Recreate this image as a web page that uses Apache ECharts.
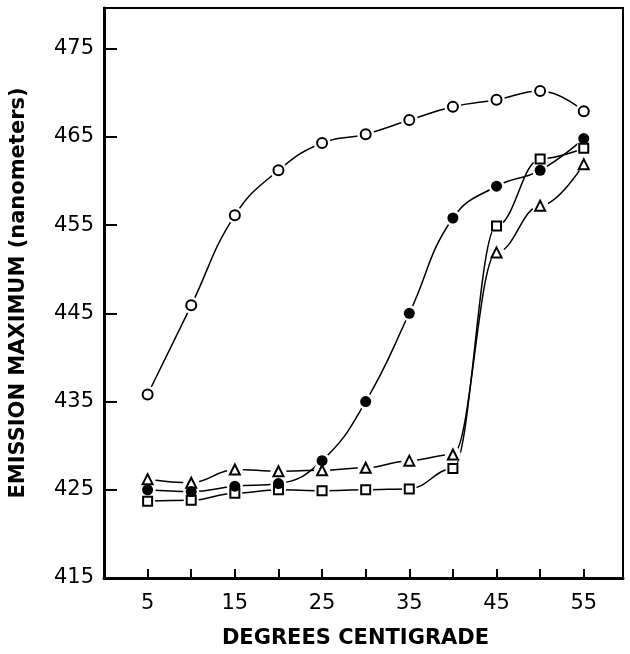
<!DOCTYPE html>
<html>
<head>
<meta charset="utf-8">
<script src="https://cdn.jsdelivr.net/npm/echarts@6/dist/echarts.min.js"></script>
<style>
html,body{margin:0;padding:0;background:#fff;}
#chart{width:630px;height:654px;}
</style>
</head>
<body>
<div id="chart"></div>
<script>
// Data
const temperatures = [5, 10, 15, 20, 25, 30, 35, 40, 45, 50, 55];
const openCircles   = [435.8, 445.9, 456.1, 461.2, 464.3, 465.3, 466.9, 468.4, 469.2, 470.2, 467.9];
const filledCircles = [425.0, 424.8, 425.4, 425.7, 428.3, 435.0, 445.0, 455.8, 459.4, 461.2, 464.8];
const squares       = [423.7, 423.8, 424.6, 425.0, 424.9, 425.0, 425.1, 427.4, 454.9, 462.5, 463.7];
const triangles     = [426.2, 425.8, 427.3, 427.1, 427.2, 427.5, 428.3, 429.0, 451.9, 457.2, 461.9];

const xTickValues  = [5, 10, 15, 20, 25, 30, 35, 40, 45, 50, 55];
const xLabelValues = [5, 15, 25, 35, 45, 55];
const yTickValues  = [425, 435, 445, 455, 465, 475];
const yLabelValues = [415, 425, 435, 445, 455, 465, 475];

const xTitle = 'DEGREES CENTIGRADE';
const yTitle = 'EMISSION MAXIMUM (nanometers)';

function pairs(ys) { return temperatures.map((t, i) => [t, ys[i]]); }

function curve(ys, smooth, monotone) {
  return {
    type: 'line', data: pairs(ys), z: 1,
    smooth: smooth, smoothMonotone: monotone ? 'x' : null,
    symbol: 'none',
    lineStyle: { color: '#000', width: 1.5 },
    emphasis: { disabled: true }, silent: true, animation: false
  };
}
function mask(ys, size) {
  return {
    type: 'scatter', data: pairs(ys), z: 2,
    symbol: 'circle', symbolSize: size,
    itemStyle: { color: '#fff', opacity: 1 },
    emphasis: { disabled: true }, silent: true, animation: false
  };
}
function markers(ys, symbol, size, filled) {
  return {
    type: 'scatter', data: pairs(ys), z: 3,
    symbol: symbol, symbolSize: size,
    itemStyle: { color: '#000', borderColor: '#000', borderWidth: filled ? 0 : 1.8, opacity: 1 },
    emphasis: { disabled: true }, silent: true, animation: false
  };
}

const chart = echarts.init(document.getElementById('chart'), null, { renderer: 'canvas' });
chart.setOption({
  backgroundColor: '#fff',
  animation: false,
  grid: {
    left: 99, right: 7, top: 8, bottom: 71,
    show: true, borderColor: '#000', borderWidth: 2, backgroundColor: 'transparent'
  },
  xAxis: {
    type: 'value',
    min: 0, max: 59.5,
    interval: 5,
    splitLine: { show: false },
    axisLine: { show: true, onZero: false, lineStyle: { color: '#000', width: 3 } },
    axisTick: { show: true, inside: true, length: 9, customValues: xTickValues, lineStyle: { color: '#000', width: 2 } },
    axisLabel: {
      customValues: xLabelValues,
      color: '#000', fontFamily: 'DejaVu Sans', fontSize: 21, margin: 15
    },
    name: xTitle,
    nameLocation: 'middle',
    nameGap: 50,
    nameTextStyle: { color: '#000', fontFamily: 'DejaVu Sans', fontWeight: 'bold', fontSize: 21, padding: [0, 16, 0, 0] }
  },
  yAxis: {
    type: 'value',
    min: 415, max: 479.6,
    interval: 5,
    splitLine: { show: false },
    axisLine: { show: true, onZero: false, lineStyle: { color: '#000', width: 3 } },
    axisTick: { show: true, inside: true, length: 13, customValues: yTickValues, lineStyle: { color: '#000', width: 2 } },
    axisLabel: {
      customValues: yLabelValues,
      color: '#000', fontFamily: 'DejaVu Sans', fontSize: 21, margin: 10
    },
    name: yTitle,
    nameLocation: 'middle',
    nameRotate: 90,
    nameGap: 75,
    nameTextStyle: { color: '#000', fontFamily: 'DejaVu Sans', fontWeight: 'bold', fontSize: 21, padding: [0, 0, 0, 0] }
  },
  series: [
    curve(openCircles, 0.45, false),
    curve(filledCircles, 0.45, false),
    curve(squares, 0.4, true),
    curve(triangles, 0.4, true),
    mask(openCircles, 17),
    mask(filledCircles, 16),
    mask(squares, 15),
    mask(triangles, 16),
    markers(openCircles, 'emptyCircle', 10, false),
    markers(squares, 'emptyRect', 9, false),
    markers(triangles, 'emptyTriangle', 10, false),
    markers(filledCircles, 'circle', 11, true)
  ]
});
</script>
</body>
</html>
